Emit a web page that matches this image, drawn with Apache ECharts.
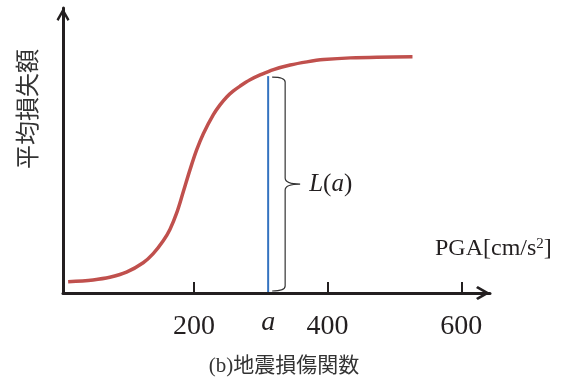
<!DOCTYPE html>
<html><head><meta charset="utf-8">
<script src="https://cdn.jsdelivr.net/npm/echarts@6/dist/echarts.min.js"></script>
<style>html,body{margin:0;padding:0;background:#fff}#c{width:566px;height:381px}</style>
</head><body><div id="c"></div>
<script>
// PGA values along the fragility curve (cm/s^2)
const pga = [11.7, 49, 74, 99, 124, 139, 154, 164, 174, 184, 194, 204, 214, 229, 239, 249, 259, 269, 284, 299, 319, 344, 369, 394, 434, 527];
// mean loss (relative units, 0-100 axis)
const loss = [3.97, 4.6, 5.5, 7.3, 10.6, 13.8, 18.3, 22.3, 28.0, 35.5, 43.2, 50.2, 55.9, 62.6, 66.0, 68.8, 70.9, 72.6, 74.8, 76.5, 78.4, 80.0, 81.1, 81.9, 82.5, 82.9];
const xTickValues = [200, 400, 600];
const aPga = [311];
const aLoss = [76.1];
const xMin = 4, xMax = 643, yMin = 0, yMax = 100;

const chart = echarts.init(document.getElementById('c'), null, {renderer: 'canvas'});
const INK = '#231f20';
const serif = '"Liberation Serif", "Times New Roman", serif';
const chevron = 'path://M10,0 L20,17.5 L17,20 L10,7.5 L3,20 L0,17.5 Z';

const option = {
  animation: false,
  backgroundColor: '#fff',
  grid: {left: 63, right: 76, top: 8, bottom: 88},
  xAxis: {
    type: 'value', min: xMin, max: xMax,
    axisLine: {onZero: false, lineStyle: {color: INK, width: 3}, symbol: ['none', chevron], symbolSize: [14, 14], symbolOffset: [0, -7]},
    axisTick: {show: true, inside: true, length: 11, lineStyle: {color: INK, width: 2}, customValues: xTickValues},
    axisLabel: {show: true, customValues: xTickValues, fontFamily: serif, fontSize: 28, color: INK, margin: 34, verticalAlign: 'middle'},
    splitLine: {show: false}
  },
  yAxis: {
    type: 'value', min: yMin, max: yMax,
    axisLine: {show: true, onZero: false, lineStyle: {color: INK, width: 3}, symbol: ['none', chevron], symbolSize: [13, 13], symbolOffset: [0, -6.5]},
    axisTick: {show: false}, axisLabel: {show: false}, splitLine: {show: false}
  },
  graphic: [
    {type: 'text', x: 27, y: 109, rotation: Math.PI / 2,
     style: {text: '平均損失額', fontFamily: '"Noto Sans CJK JP"', fontSize: 24, fill: '#333', align: 'center', verticalAlign: 'middle'}},
    {type: 'text', x: 435, y: 249,
     style: {text: '{n|PGA[cm/s}{s|2}{n|]}', align: 'left', verticalAlign: 'middle',
       rich: {n: {fontFamily: serif, fontSize: 24, fill: INK, color: INK}, s: {fontFamily: serif, fontSize: 15, color: INK, fill: INK, verticalAlign: 'top', lineHeight: 15}}}},
    {type: 'text', x: 284, y: 366,
     style: {text: '(b)地震損傷関数', fontFamily: '"Liberation Serif", "Noto Sans CJK JP"', fontSize: 21, fill: '#333', align: 'center', verticalAlign: 'middle'}}
  ],
  series: [
    {
      type: 'line', data: pga.map((x, i) => [x, loss[i]]), smooth: 0.35, showSymbol: false,
      lineStyle: {color: '#C0504D', width: 3.5}, z: 3
    },
    {
      type: 'custom', data: aPga.map((x, i) => [x, aLoss[i]]), z: 4,
      renderItem: function (params, api) {
        const p0 = api.coord([api.value(0), 0]);
        const p1 = api.coord([api.value(0), api.value(1)]);
        const bx = p0[0];
        const yt = p1[1] + 1, yb = p0[1] - 2, ym = (yt + yb) / 2;
        const v = bx + 17, t = bx + 32;
        const brace = `M${bx + 4} ${yt} Q${v} ${yt} ${v} ${yt + 5} L${v} ${ym - 6} Q${v} ${ym} ${t} ${ym} Q${v} ${ym} ${v} ${ym + 6} L${v} ${yb - 5} Q${v} ${yb} ${bx + 4} ${yb}`;
        return {type: 'group', children: [
          {type: 'line', shape: {x1: bx, y1: p0[1] - 1, x2: bx, y2: p1[1]}, style: {stroke: '#3473C0', lineWidth: 2}},
          {type: 'path', shape: {pathData: brace}, style: {stroke: '#333', lineWidth: 1.2, fill: null}},
          {type: 'text', x: bx, y: p0[1] + 29.5, style: {text: 'a', fontFamily: serif, fontStyle: 'italic', fontSize: 28, fill: INK, align: 'center', verticalAlign: 'middle'}},
          {type: 'text', x: t + 9, y: ym, style: {text: '{i|L}{n|(}{i|a}{n|)}', align: 'left', verticalAlign: 'middle',
            rich: {i: {fontFamily: serif, fontStyle: 'italic', fontSize: 25, fill: INK, color: INK}, n: {fontFamily: serif, fontSize: 25, fill: INK, color: INK}}}}
        ]};
      }
    }
  ]
};
chart.setOption(option);
</script>
</body></html>
